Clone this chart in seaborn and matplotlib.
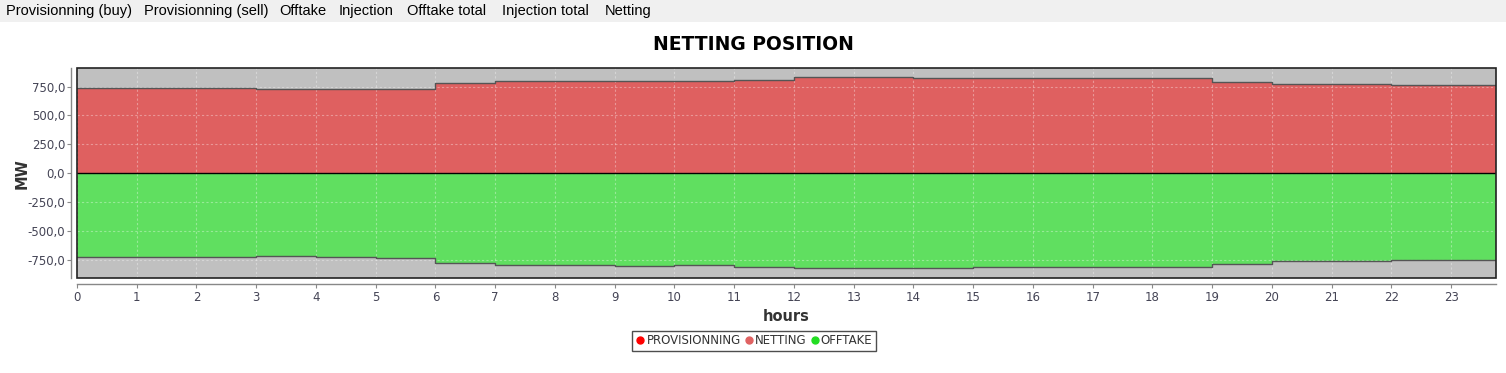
import pandas as pd
import matplotlib
matplotlib.use("Agg")
import matplotlib.pyplot as plt
from matplotlib.patches import Rectangle
from matplotlib.lines import Line2D
from matplotlib.ticker import FuncFormatter
import seaborn as sns

# Menu entries shown above the chart
menu_items = ["Provisionning (buy)", "Provisionning (sell)", "Offtake", "Injection",
              "Offtake total", "Injection total", "Netting"]
menu_x = [6, 144, 279, 339, 407, 502, 605]

# Hourly values (MW)
hours = list(range(24))
netting = [735, 735, 735, 727, 732, 733, 784, 801, 801, 801, 801, 810,
           830, 830, 822, 822, 822, 822, 822, 787, 770, 770, 761, 761]
offtake = [-727, -727, -727, -718, -727, -735, -776, -796, -796, -805, -796, -813,
           -822, -822, -822, -813, -813, -813, -813, -787, -761, -761, -753, -753]
x_end = 23.75

legend_labels = ["PROVISIONNING", "NETTING", "OFFTAKE"]
legend_colors = ["#ff0000", "#e06262", "#22dd22"]

red_fill = "#df6060"
green_fill = "#60df60"
plot_bg = "#c0c0c0"
tick_col = "#444455"

sns.set_theme(style="white")
plt.rcParams["font.family"] = ["DejaVu Sans"]

# step data: repeat the last value up to the end of the last interval
df = pd.DataFrame({"hour": hours + [x_end],
                   "netting": netting + [netting[-1]],
                   "offtake": offtake + [offtake[-1]]})

fig = plt.figure(figsize=(15.06, 3.73), dpi=100)

# menu bar
fig.patches.append(Rectangle((0, 1 - 22 / 373), 1, 22 / 373, transform=fig.transFigure,
                             facecolor="#f0f0f0", edgecolor="none", zorder=0))
for item, xp in zip(menu_items, menu_x):
    fig.text(xp / 1506, 1 - 11 / 373, item, fontsize=10.5, color="black",
             va="center", ha="left", family="Liberation Sans")

fig.text(753 / 1506, 1 - 45 / 373, "NETTING POSITION", ha="center", va="center",
         fontsize=13.5, fontweight="bold", color="black")

ax = fig.add_axes([77 / 1506, 1 - 278.3 / 373, (1496 - 77) / 1506, (278.3 - 68.3) / 373])
ax.set_facecolor(plot_bg)

ax.fill_between(df["hour"], 0, df["netting"], step="post", color=red_fill, lw=0, zorder=2)
ax.fill_between(df["hour"], 0, df["offtake"], step="post", color=green_fill, lw=0, zorder=2)
sns.lineplot(data=df, x="hour", y="netting", drawstyle="steps-post", color="#555555",
             lw=1.0, ax=ax, zorder=3)
sns.lineplot(data=df, x="hour", y="offtake", drawstyle="steps-post", color="#555555",
             lw=1.0, ax=ax, zorder=3)
ax.axhline(0, color="black", lw=1.0, zorder=4)

ax.set_xlim(0, x_end)
ax.set_ylim(-908, 908)
ax.set_xticks(hours)
ax.set_yticks([-750, -500, -250, 0, 250, 500, 750])
ax.yaxis.set_major_formatter(FuncFormatter(lambda v, p: f"{v:.1f}".replace(".", ",")))
ax.grid(True, color="white", ls=(0, (2, 2)), lw=0.8, alpha=0.35, zorder=2.5)
ax.set_axisbelow(False)

for side in ["top", "right"]:
    ax.spines[side].set_visible(False)
for side in ["left", "bottom"]:
    ax.spines[side].set_position(("outward", 4))
    ax.spines[side].set_color("#888888")
    ax.spines[side].set_linewidth(1.0)
ax.add_patch(Rectangle((0, 0), 1, 1, transform=ax.transAxes, fill=False,
                       edgecolor="#222222", lw=1.2, zorder=5, clip_on=False))

ax.tick_params(axis="both", which="major", length=3, width=0.8, color="#888888",
               labelsize=8.5, labelcolor=tick_col, bottom=True, left=True)
ax.tick_params(axis="x", pad=2)
ax.tick_params(axis="y", pad=1.5)
ax.set_xlabel("hours", fontsize=10.5, fontweight="bold", color="#333333", labelpad=4)
ax.set_ylabel("MW", fontsize=10.5, fontweight="bold", color="#333333", va="center")
ax.yaxis.set_label_coords(-0.0385, 0.5)

handles = [Line2D([], [], marker="o", ls="none", color=c, markersize=5) for c in legend_colors]
leg = fig.legend(handles, legend_labels, loc="center", bbox_to_anchor=(754 / 1506, 1 - 341 / 373),
                 ncol=3, frameon=True, fontsize=8.5, handletextpad=0.1, columnspacing=0.3,
                 borderpad=0.3, handlelength=0.8, fancybox=False)
leg.get_frame().set_edgecolor("#222222")
leg.get_frame().set_linewidth(1.0)
for txt in leg.get_texts():
    txt.set_color("#333333")

fig.savefig("out.png", dpi=100)
